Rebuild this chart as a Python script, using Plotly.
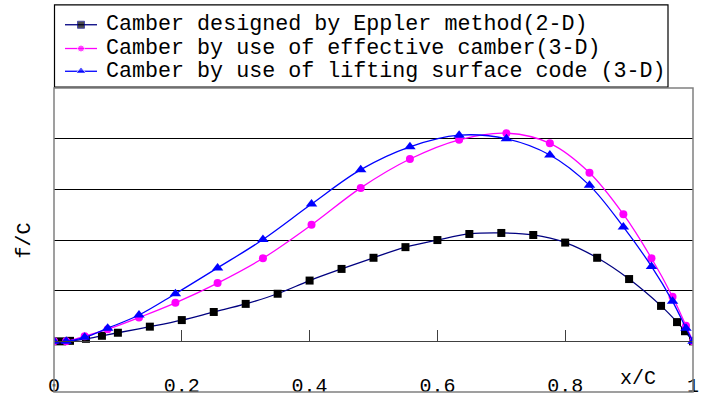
import plotly.graph_objects as go

# Chordwise stations x/C and camber f/C for the three camber lines
x_eppler = [0.0, 0.0125, 0.025, 0.05, 0.075, 0.1, 0.15, 0.2, 0.25, 0.3, 0.35, 0.4,
            0.45, 0.5, 0.55, 0.6, 0.65, 0.7, 0.75, 0.8, 0.85, 0.9, 0.95, 0.975,
            0.9875, 1.0]
f_eppler = [0.0, 0.0, 0.0001, 0.0005, 0.0011, 0.0017, 0.0029, 0.0042, 0.0058,
            0.0074, 0.0094, 0.0120, 0.0143, 0.0165, 0.0186, 0.0200, 0.0212,
            0.0214, 0.0210, 0.0195, 0.0165, 0.0123, 0.0070, 0.0038, 0.0020, 0.0]

x_3d = [0.0, 0.019, 0.048, 0.084, 0.133, 0.190, 0.256, 0.327, 0.403, 0.480,
        0.557, 0.634, 0.708, 0.776, 0.838, 0.891, 0.935, 0.968, 0.989, 1.0]
f_effective = [0.0, 0.0, 0.0010, 0.0024, 0.0047, 0.0076, 0.0115, 0.0164, 0.0230,
               0.0303, 0.0360, 0.0398, 0.0411, 0.0391, 0.0333, 0.0251, 0.0164,
               0.0088, 0.0031, 0.0]
f_lifting = [0.0, 0.0, 0.0008, 0.0026, 0.0052, 0.0094, 0.0145, 0.0201, 0.0271,
             0.0339, 0.0384, 0.0407, 0.0400, 0.0368, 0.0308, 0.0226, 0.0148,
             0.0079, 0.0026, 0.0]

names = ["Camber designed by Eppler method(2-D)",
         "Camber by use of effective camber(3-D)",
         "Camber by use of lifting surface code (3-D)"]

x_ticks = [0, 0.2, 0.4, 0.6, 0.8, 1]
x_tick_text = ["0", "0.2", "0.4", "0.6", "0.8", "1"]

FONT = "Liberation Mono, DejaVu Sans Mono, monospace"

W, H = 704, 398
ML, MR, MT, MB = 54, 11, 0, 2
PW, PH = W - ML - MR, H - MT - MB          # paper area in px
PLOT_TOP = 89                               # top edge of the chart frame (px)


def px_x(px):
    return (px - ML) / PW


def px_y(py):
    return (H - MB - py) / PH


styles = [
    dict(line=dict(color="#000080", width=1.3),
         marker=dict(symbol="square", size=8, color="#000000")),
    dict(line=dict(color="#FF00FF", width=1.3),
         marker=dict(symbol="circle", size=8, color="#FF00FF")),
    dict(line=dict(color="#0000FF", width=1.3),
         marker=dict(symbol="triangle-up", size=10, color="#0000FF")),
]
series = [(x_eppler, f_eppler), (x_3d, f_effective), (x_3d, f_lifting)]

fig = go.Figure()
for (xs, ys), name, st in zip(series, names, styles):
    fig.add_trace(go.Scatter(
        x=xs, y=ys, name=name, mode="lines+markers", showlegend=False,
        line=dict(shape="spline", **st["line"]), marker=st["marker"],
        xaxis="x", yaxis="y",
    ))

# Legend box: keys drawn on a pixel-scaled overlay axis, labels as text
key_rows = [25, 49, 72]
for row, name, st in zip(key_rows, names, styles):
    fig.add_trace(go.Scatter(
        x=[65, 81, 97], y=[row, row, row], mode="lines+markers",
        showlegend=False, hoverinfo="skip",
        line=st["line"],
        marker=dict(symbol=st["marker"]["symbol"], color=st["marker"]["color"],
                    size=[0, st["marker"]["size"] - 1, 0]),
        xaxis="x2", yaxis="y2",
    ))
    fig.add_annotation(text=name, xref="paper", yref="paper",
                       x=px_x(104), y=px_y(row), xanchor="left",
                       yanchor="middle", showarrow=False,
                       font=dict(family=FONT, size=21.7, color="#000000"))

fig.add_shape(type="rect", xref="paper", yref="paper",
              x0=px_x(54.5), x1=px_x(668), y0=px_y(5), y1=px_y(88),
              line=dict(color="#000000", width=1.2), layer="above")

# chart frame
fig.add_shape(type="rect", xref="x domain", yref="y domain",
              x0=0, y0=0, x1=1, y1=1,
              line=dict(color="#808080", width=1.5), layer="above")

fig.add_annotation(text="x/C", xref="paper", yref="paper",
                   x=px_x(638), y=px_y(382),
                   xanchor="center", yanchor="middle", showarrow=False,
                   font=dict(family=FONT, size=20, color="#000000"))
fig.add_annotation(text="f/C", xref="paper", yref="paper",
                   x=px_x(25), y=px_y(243), textangle=-90,
                   xanchor="center", yanchor="middle", showarrow=False,
                   font=dict(family=FONT, size=20, color="#000000"))

fig.update_layout(
    width=W, height=H,
    margin=dict(l=ML, r=MR, t=MT, b=MB),
    paper_bgcolor="white", plot_bgcolor="rgba(0,0,0,0)",
    font=dict(family=FONT, size=20, color="#000000"),
    showlegend=False,
    xaxis=dict(domain=[0, 1], range=[0, 1], tickvals=x_ticks,
               ticktext=x_tick_text,
               anchor="free", position=px_y(344.5),
               showline=True, linecolor="#404040", linewidth=1.2,
               ticks="inside", ticklen=11, tickcolor="#404040", tickwidth=1,
               ticklabelstandoff=26, showgrid=False, zeroline=False,
               tickfont=dict(family=FONT, size=20)),
    yaxis=dict(domain=[0, px_y(PLOT_TOP)], range=[-0.01, 0.05], dtick=0.01,
               tick0=0, showticklabels=False, ticks="", showgrid=True,
               gridcolor="#000000", gridwidth=1, zeroline=False,
               showline=False),
    xaxis2=dict(domain=[0, 1], range=[ML, W - MR], anchor="y2", visible=False,
                fixedrange=True),
    yaxis2=dict(domain=[0, 1], range=[H - MB, MT], anchor="x2", visible=False,
                fixedrange=True),
)

fig.write_html("out.html")
